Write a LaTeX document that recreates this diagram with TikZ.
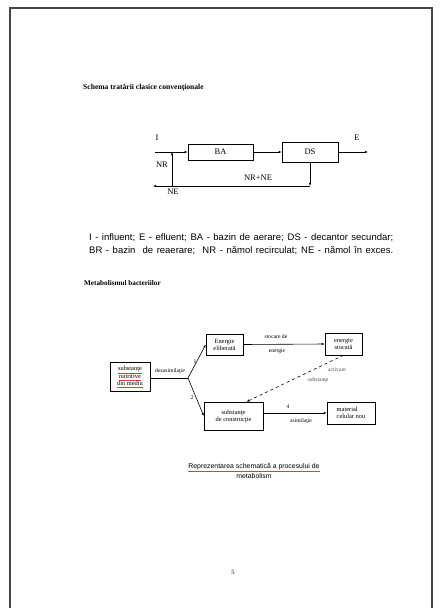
\documentclass[tikz,border=0pt]{standalone}
\usepackage{fontspec}
\setmainfont{Liberation Serif}
\newfontfamily\arialfont{Liberation Sans}
\usepackage{xcolor}
\usetikzlibrary{arrows.meta, positioning}
\definecolor{framegray}{RGB}{70,70,70}
\definecolor{spellred}{RGB}{220,60,60}
\newcommand{\redul}[1]{\textcolor{spellred}{\underline{\textcolor{black}{#1}}}}

\begin{document}
\begin{tikzpicture}[x=1pt, y=-1pt,
  pbox/.style={rectangle, draw, line width=0.6pt, inner sep=1pt,
               font=\fontsize{8.5}{9}\selectfont, align=center},
  mbox/.style={rectangle, draw, line width=0.5pt, inner sep=1pt,
               font=\fontsize{6.4}{7}\selectfont, align=center},
  lbl/.style={font=\fontsize{8.5}{9}\selectfont, inner sep=0pt},
  slbl/.style={font=\fontsize{5.6}{6.2}\selectfont, inner sep=0pt, align=center},
  arr/.style={-{Latex[length=3pt, width=2.4pt]}, line width=0.6pt}
]
\useasboundingbox (0,0) rectangle (440,608);

%% ── Page frame ──────────────────────────────────────────────────────────
\draw[framegray, line width=1.6pt] (10,615) -- (10,8) -- (432,8) -- (432,615);

%% ── Section 1: classic treatment scheme ─────────────────────────────────
\node[font=\bfseries\fontsize{7.6}{8}\selectfont, anchor=west, inner sep=0pt]
  (title1) at (83,88) {Schema tratării clasice convenţionale};

\node[pbox, minimum width=65pt, minimum height=16pt] (ba) at (220.5,152) {BA};
\node[pbox, minimum width=56pt, minimum height=20pt] (ds) at (310,152) {DS};

\coordinate (inl) at (155,152);
\coordinate (jn)  at (172,152);
\coordinate (out) at (368,152);
\coordinate (ret) at (310,186);
\coordinate (nrb) at (172,186);
\coordinate (ne)  at (153,186);

\node[lbl] (li)   at (157,138) {I};
\node[lbl] (le)   at (357,138) {E};
\node[lbl] (lnr)  at (162,165) {NR};
\node[lbl] (lne)  at (173,192) {NE};
\node[lbl] (lnrne) at (258,178) {NR+NE};

\draw[arr] (inl) -- (ba.west);
\draw[arr] (ba.east) -- (ds.west);
\draw[arr] (ds.east) -- (out);
\draw[arr] (ds.south) -- (ret);
\draw[arr] (ret) -- (ne);
\draw[arr] (nrb) -- (jn);

%% ── Legend ──────────────────────────────────────────────────────────────
\node[font=\arialfont\fontsize{9.5}{10}\selectfont, anchor=west, inner sep=0pt] (leg1) at (89,238)
  {\makebox[304pt][s]{I - influent; E - efluent; BA - bazin de aerare; DS - decantor secundar;}};
\node[font=\arialfont\fontsize{9.5}{10}\selectfont, anchor=west, inner sep=0pt] (leg2) at (89,250.5)
  {\makebox[304pt][s]{BR - bazin\ \ de reaerare;\ \ NR - nămol recirculat; NE - nămol în exces.}};

%% ── Section 2: bacterial metabolism ─────────────────────────────────────
\node[font=\bfseries\fontsize{7.2}{8}\selectfont, anchor=west, inner sep=0pt]
  (title2) at (84,283) {Metabolismul bacteriilor};

\node[mbox, minimum width=40pt, minimum height=29pt] (nutr) at (130,377)
  {\redul{substanţe}\\\redul{nutritive}\\\redul{din mediu}};
\node[mbox, minimum width=37pt, minimum height=21pt] (eel) at (224.5,344.5) {Energie\\eliberată};
\node[mbox, minimum width=37pt, minimum height=22pt] (est) at (343.5,344) {energie\\stocată};
\node[mbox, minimum width=59pt, minimum height=28pt] (sub) at (233.5,416) {substanţe\\de construcţie};
\node[mbox, minimum width=48pt, minimum height=22pt, align=left] (mat) at (351,413) {material\\celular nou};

\coordinate (jm) at (188,378);

\node[slbl] (ldez) at (170,371) {dezasimilaţie};
\node[slbl] (l1)   at (195,362) {1};
\node[slbl] (l2)   at (192,398) {2};
\node[slbl] (lsto) at (276,337) {stocare de};
\node[slbl] (lene) at (277,351) {energie};
\node[slbl, text=black!70] (lact) at (337,370) {activare};
\node[slbl, text=black!70] (lsub) at (318,380) {substanţe};
\node[slbl] (l4)   at (288,407) {4};
\node[slbl] (lasi) at (301,421) {asimilaţie};

\draw[line width=0.5pt] (nutr.east |- jm) -- (jm);
\draw[arr] (jm) -- (eel.west);
\draw[arr] (jm) -- (sub.west);
\draw[arr] (eel.east) -- (est.west);
\draw[arr, dashed] (est.south) -- ([xshift=13pt]sub.north);
\draw[arr] (sub.east |- mat) -- (mat.west);

%% ── Caption and page number ─────────────────────────────────────────────
\node[font=\arialfont\fontsize{6.9}{9.5}\selectfont, align=center, inner sep=0pt] (cap) at (254,471)
  {\redul{Reprezentarea schematică a procesului de}\\metabolism};
\node[font=\fontsize{6.5}{7}\selectfont, inner sep=0pt] (pnum) at (233,572) {5};

\end{tikzpicture}
\end{document}
